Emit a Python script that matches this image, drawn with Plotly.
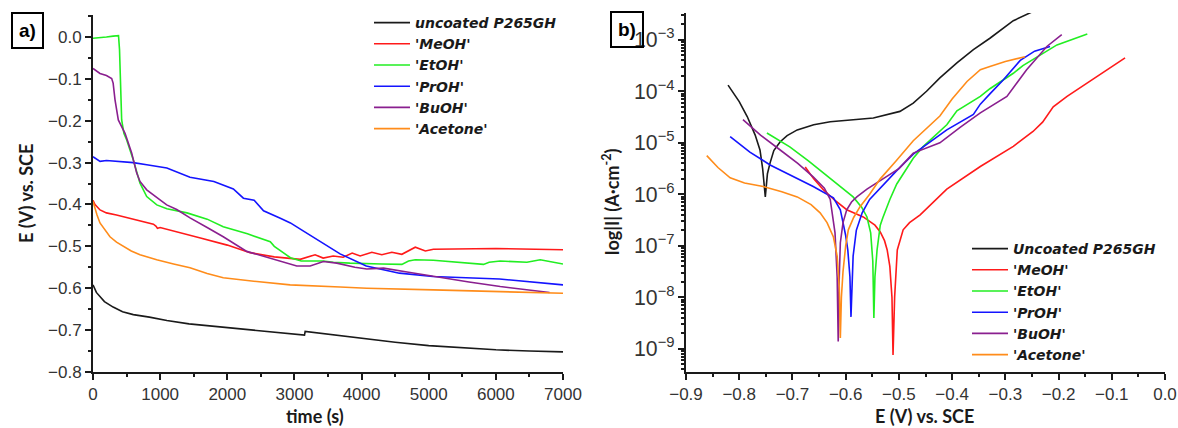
import plotly.graph_objects as go
import numpy as np

# ---------------- Panel a) : open circuit potential vs time ----------------
series_names_a = ["uncoated P265GH", "'MeOH'", "'EtOH'", "'PrOH'", "'BuOH'", "'Acetone'"]
series_names_b = ["Uncoated P265GH", "'MeOH'", "'EtOH'", "'PrOH'", "'BuOH'", "'Acetone'"]
colors = ["#1a1a1a", "#ff1a1a", "#22ee22", "#1414ff", "#8a1f8f", "#ff8c1a"]

black_t = [0, 50, 170, 300, 440, 600, 840, 1100, 1430, 1800, 2170, 2500, 2800, 3150, 3160,
           3500, 4000, 4500, 5000, 5500, 6000, 6500, 7000]
black_E = [-0.592, -0.61, -0.632, -0.645, -0.656, -0.663, -0.669, -0.677, -0.685, -0.691, -0.697,
           -0.702, -0.707, -0.712, -0.703, -0.710, -0.720, -0.729, -0.737, -0.742, -0.747, -0.750, -0.752]

red_t = [0, 30, 105, 200, 350, 600, 900, 940, 960, 1000, 1300, 1600, 2000, 2340, 2700, 3085,
         3308, 3428, 3577, 3726, 3860, 3979, 4153, 4302, 4451, 4600, 4800, 4950, 5070, 5320, 6000, 7000]
red_E = [-0.39, -0.40, -0.413, -0.42, -0.425, -0.435, -0.447, -0.452, -0.457, -0.455, -0.467, -0.48,
         -0.497, -0.515, -0.525, -0.531, -0.520, -0.528, -0.523, -0.526, -0.516, -0.523, -0.514,
         -0.520, -0.514, -0.519, -0.502, -0.511, -0.507, -0.506, -0.505, -0.508]

green_t = [0, 100, 200, 300, 380, 395, 410, 427, 460, 502, 600, 700, 800, 950, 1100, 1400, 1700,
           1940, 2300, 2640, 2700, 2940, 3100, 3430, 3577, 3826, 4300, 4600, 4700, 4800, 5070, 5500,
           5816, 5900, 6065, 6462, 6661, 7000]
green_E = [-0.003, -0.002, 0.0, 0.002, 0.003, -0.03, -0.12, -0.198, -0.23, -0.246, -0.294, -0.349,
           -0.381, -0.401, -0.41, -0.42, -0.435, -0.453, -0.47, -0.489, -0.50, -0.527, -0.535,
           -0.535, -0.538, -0.540, -0.542, -0.543, -0.535, -0.532, -0.533, -0.538, -0.543, -0.538,
           -0.535, -0.538, -0.532, -0.542]

blue_t = [0, 50, 105, 200, 400, 600, 800, 1100, 1445, 1800, 2090, 2240, 2400, 2540, 2790, 2940,
          3100, 3430, 3680, 4070, 4563, 5060, 6055, 7000]
blue_E = [-0.286, -0.292, -0.297, -0.295, -0.297, -0.300, -0.305, -0.313, -0.335, -0.345, -0.363,
          -0.385, -0.39, -0.415, -0.433, -0.444, -0.46, -0.492, -0.518, -0.547, -0.564, -0.572,
          -0.578, -0.592]

purple_t = [0, 104, 200, 278, 300, 328, 377, 477, 576, 651, 700, 800, 998, 1098, 1247, 1445, 1700,
            1940, 2290, 2737, 3035, 3234, 3432, 3631, 3900, 4078, 4327, 4700, 5070, 5600, 6065, 6662, 6800]
purple_E = [-0.075, -0.087, -0.092, -0.099, -0.11, -0.150, -0.198, -0.230, -0.277, -0.325, -0.345,
            -0.365, -0.389, -0.401, -0.412, -0.432, -0.455, -0.477, -0.512, -0.532, -0.547, -0.547,
            -0.536, -0.540, -0.550, -0.554, -0.552, -0.562, -0.572, -0.585, -0.596, -0.608, -0.61]

orange_t = [0, 20, 60, 104, 180, 253, 350, 452, 570, 700, 949, 1200, 1445, 1700, 1940, 2440, 2936,
            3680, 4078, 5070, 6065, 7000]
orange_E = [-0.393, -0.405, -0.425, -0.444, -0.462, -0.477, -0.49, -0.500, -0.511, -0.520, -0.532,
            -0.542, -0.551, -0.565, -0.575, -0.584, -0.592, -0.597, -0.600, -0.604, -0.608, -0.612]

# ---------------- Panel b) : polarization curves (E vs log|I|) ----------------
pol_black_E = [-0.821, -0.80, -0.785, -0.77, -0.761, -0.756, -0.751, -0.747, -0.742, -0.735, -0.723,
               -0.71, -0.691, -0.66, -0.629, -0.58, -0.548, -0.498, -0.473, -0.448, -0.423, -0.391,
               -0.36, -0.329, -0.285, -0.248]
pol_black_logI = [-3.88, -4.2, -4.49, -4.85, -5.14, -5.5, -6.05, -5.6, -5.39, -5.15, -4.98, -4.86,
                  -4.75, -4.65, -4.59, -4.54, -4.52, -4.39, -4.23, -4.00, -3.74, -3.45, -3.19, -2.97,
                  -2.63, -2.45]

pol_red_E = [-0.676, -0.66, -0.642, -0.62, -0.598, -0.567, -0.545, -0.535, -0.527, -0.522, -0.517,
             -0.513, -0.511, -0.508, -0.503, -0.497, -0.492, -0.48, -0.46, -0.41, -0.347, -0.285,
             -0.248, -0.23, -0.21, -0.184, -0.147, -0.109, -0.075]
pol_red_logI = [-5.47, -5.7, -5.91, -6.12, -6.3, -6.44, -6.6, -6.73, -6.9, -7.08, -7.4, -8.0, -9.12,
                -8.0, -7.08, -6.85, -6.69, -6.55, -6.4, -5.9, -5.46, -5.07, -4.78, -4.6, -4.3, -4.1,
                -3.84, -3.58, -3.35]

pol_green_E = [-0.748, -0.705, -0.67, -0.642, -0.61, -0.586, -0.57, -0.56, -0.553, -0.549, -0.547,
               -0.545, -0.541, -0.535, -0.53, -0.517, -0.504, -0.473, -0.455, -0.41, -0.391, -0.347,
               -0.329, -0.285, -0.267, -0.222, -0.203, -0.146]
pol_green_logI = [-4.81, -5.08, -5.35, -5.58, -5.85, -6.05, -6.25, -6.44, -6.75, -7.3, -8.4, -7.6,
                  -7.08, -6.6, -6.45, -6.1, -5.8, -5.3, -5.08, -4.65, -4.38, -4.1, -3.95, -3.65,
                  -3.5, -3.22, -3.1, -2.89]

pol_blue_E = [-0.817, -0.78, -0.742, -0.70, -0.661, -0.623, -0.61, -0.605, -0.60, -0.596, -0.592,
              -0.59, -0.588, -0.586, -0.58, -0.569, -0.555, -0.535, -0.505, -0.473, -0.41, -0.36,
              -0.347, -0.329, -0.304, -0.272, -0.245, -0.216]
pol_blue_logI = [-4.88, -5.18, -5.43, -5.65, -5.85, -6.07, -6.3, -6.55, -6.8, -7.08, -7.6, -8.38,
                 -7.7, -7.2, -6.7, -6.36, -6.1, -5.88, -5.55, -5.22, -4.75, -4.45, -4.25, -4.05,
                 -3.78, -3.4, -3.22, -3.13]

pol_purple_E = [-0.793, -0.76, -0.723, -0.69, -0.661, -0.64, -0.629, -0.62, -0.616, -0.614, -0.612,
                -0.61, -0.605, -0.598, -0.589, -0.579, -0.56, -0.535, -0.5, -0.473, -0.423, -0.385,
                -0.347, -0.297, -0.26, -0.222, -0.194]
pol_purple_logI = [-4.55, -4.85, -5.14, -5.4, -5.66, -5.88, -6.1, -6.75, -7.6, -8.86, -7.6, -6.94,
                   -6.55, -6.3, -6.15, -6.05, -5.9, -5.74, -5.5, -5.2, -5.0, -4.7, -4.42, -4.1,
                   -3.58, -3.13, -2.9]

pol_orange_E = [-0.861, -0.84, -0.817, -0.79, -0.755, -0.72, -0.691, -0.665, -0.648, -0.635, -0.623,
                -0.616, -0.612, -0.61, -0.608, -0.605, -0.60, -0.595, -0.585, -0.573, -0.555, -0.535,
                -0.505, -0.473, -0.423, -0.40, -0.372, -0.347, -0.329, -0.30, -0.263]
pol_orange_logI = [-5.25, -5.48, -5.68, -5.78, -5.85, -5.95, -6.05, -6.2, -6.36, -6.55, -6.83, -7.2,
                   -7.8, -8.79, -8.0, -7.5, -7.0, -6.69, -6.45, -6.24, -6.0, -5.7, -5.35, -4.96,
                   -4.48, -4.15, -3.81, -3.58, -3.52, -3.42, -3.33]

ocp_t = [black_t, red_t, green_t, blue_t, purple_t, orange_t]
ocp_E = [black_E, red_E, green_E, blue_E, purple_E, orange_E]
pol_E = [pol_black_E, pol_red_E, pol_green_E, pol_blue_E, pol_purple_E, pol_orange_E]
pol_logI = [pol_black_logI, pol_red_logI, pol_green_logI, pol_blue_logI, pol_purple_logI, pol_orange_logI]

W, H = 1178, 428
fig = go.Figure()

for i in range(6):
    fig.add_trace(go.Scatter(x=ocp_t[i], y=ocp_E[i], mode="lines", name=series_names_a[i],
                             line=dict(color=colors[i], width=1.6),
                             xaxis="x", yaxis="y", legend="legend"))
for i in range(6):
    fig.add_trace(go.Scatter(x=pol_E[i], y=10 ** np.array(pol_logI[i]), mode="lines",
                             name=series_names_b[i], line=dict(color=colors[i], width=1.6),
                             xaxis="x2", yaxis="y2", legend="legend2"))

tickfont = dict(family="Liberation Sans, Arial, sans-serif", size=17, color="#333")
common_axis = dict(showline=True, linecolor="#1a1a1a", linewidth=2, ticks="outside", ticklen=6,
                   tickwidth=1.5, tickcolor="#1a1a1a", showgrid=False, zeroline=False,
                   tickfont=tickfont, mirror=False, automargin=False)

legend_font = dict(family="DejaVu Sans, sans-serif", size=14, color="#1a1a1a",
                   style="italic", weight="bold")

ybot = 1 - 372 / H
fig.update_layout(
    width=W, height=H, margin=dict(l=0, r=0, t=0, b=0, autoexpand=False),
    paper_bgcolor="white", plot_bgcolor="white",
    xaxis=dict(domain=[93 / W, 563 / W], range=[0, 7000], dtick=1000, tick0=0,
               minor=dict(ticks="outside", ticklen=3, dtick=500, tickcolor="#1a1a1a"),
               anchor="y", **common_axis),
    yaxis=dict(domain=[ybot, 1 - 15 / H], range=[-0.8, 0.0525], dtick=0.1, tick0=0,
               tickformat=".1f",
               minor=dict(ticks="outside", ticklen=3, dtick=0.05, tickcolor="#1a1a1a"),
               anchor="x", **common_axis),
    xaxis2=dict(domain=[686 / W, 1165 / W], range=[-0.9, 0.0], dtick=0.1, tick0=0,
                tickformat=".1f",
                minor=dict(ticks="outside", ticklen=3, dtick=0.05, tickcolor="#1a1a1a"),
                anchor="y2", **common_axis),
    yaxis2=dict(domain=[ybot, 1 - 13 / H], type="log", range=[-9.45, -2.48], dtick=1,
                exponentformat="power",
                minor=dict(ticks="outside", ticklen=3, dtick="D1", tickcolor="#1a1a1a"),
                anchor="x2", **common_axis),
    legend=dict(x=369 / W, y=1 - 7 / H, xanchor="left", yanchor="top", font=legend_font,
                bgcolor="rgba(0,0,0,0)", tracegroupgap=0, itemwidth=36),
    legend2=dict(x=967 / W, y=1 - 233 / H, xanchor="left", yanchor="top", font=legend_font,
                 bgcolor="rgba(0,0,0,0)", tracegroupgap=0, itemwidth=36),
    showlegend=True,
)

title_font = dict(family="Lato, Open Sans, sans-serif", size=18, color="#1a1a1a", weight="bold")
annotations = [
    dict(text="E (V) vs. SCE", x=26 / W, y=1 - 194 / H, textangle=-90),
    dict(text="time (s)", x=315 / W, y=1 - 416 / H),
    dict(text="log|I| (A·cm<sup>-2</sup>)", x=611 / W, y=1 - 202 / H, textangle=-90),
    dict(text="E (V) vs. SCE", x=924 / W, y=1 - 416 / H),
]
for a in annotations:
    fig.add_annotation(xref="paper", yref="paper", showarrow=False, font=title_font,
                       xanchor="center", yanchor="middle", **a)

box_font = dict(family="Liberation Sans, Arial, sans-serif", size=19, color="black", weight="bold")
fig.add_annotation(text="a)", xref="paper", yref="paper", x=27 / W, y=1 - 31 / H, showarrow=False,
                   font=box_font, bordercolor="black", borderwidth=2, borderpad=6,
                   xanchor="center", yanchor="middle")
fig.add_annotation(text="b)", xref="paper", yref="paper", x=627 / W, y=1 - 30 / H, showarrow=False,
                   font=box_font, bordercolor="black", borderwidth=2, borderpad=6,
                   xanchor="center", yanchor="middle")

fig.write_html("out.html")
